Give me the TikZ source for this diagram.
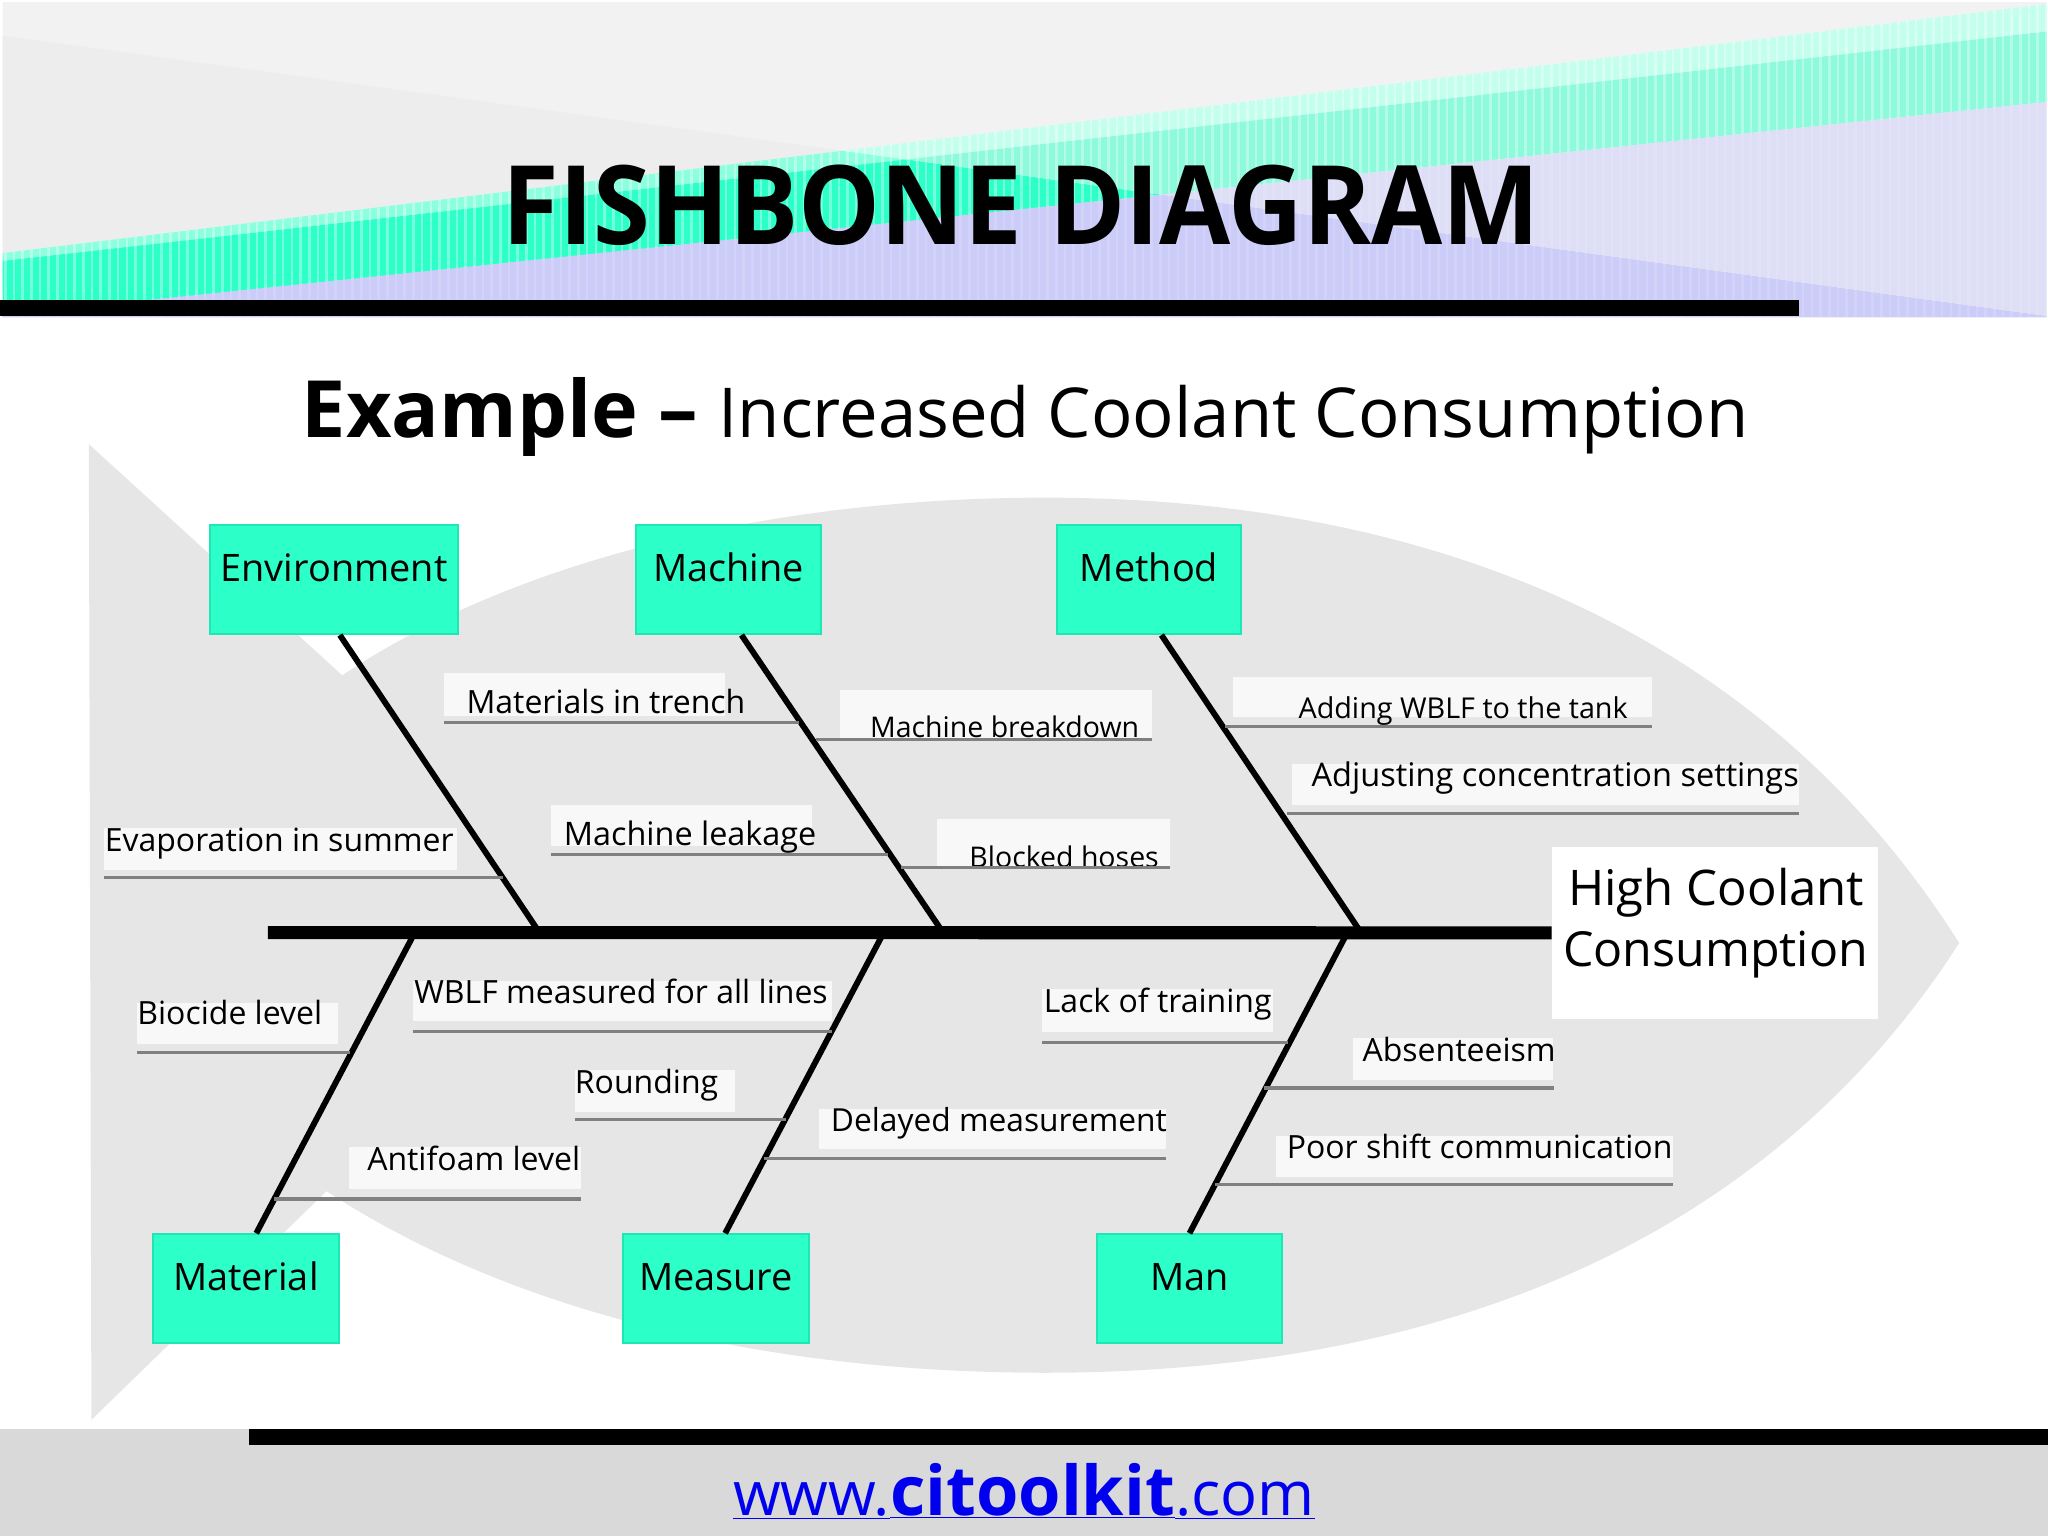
\documentclass[tikz,border=0pt]{standalone}
\usepackage{fontspec}
\setmainfont{Open Sans}
\definecolor{headgrey}{HTML}{F2F2F2}
\definecolor{headdark}{HTML}{EDEDED}
\definecolor{palemint}{HTML}{C4FFEE}
\definecolor{softmint}{HTML}{8CFADB}
\definecolor{lightmint}{HTML}{8CFFDF}
\definecolor{mint}{HTML}{2DFFC8}
\definecolor{mintedge}{HTML}{1EE6B4}
\definecolor{palelilac}{HTML}{DEDEF6}
\definecolor{lilac}{HTML}{CCCCF8}
\definecolor{fishgrey}{HTML}{E6E6E6}
\definecolor{tagwhite}{HTML}{F8F8F8}
\definecolor{twiggrey}{HTML}{808080}
\definecolor{footgrey}{HTML}{D9D9D9}
\definecolor{linkblue}{HTML}{0000EE}
\newcommand{\fsize}[1]{\fontsize{#1}{#1}\selectfont}
\tikzset{
    causebox/.style={draw=mintedge, line width=1.5pt, fill=mint, inner sep=0pt, minimum width=#1,
        text height=43pt, text depth=40.5pt, font=\fsize{29}},
    spine/.style={line width=10pt},
    bone/.style={line width=4.5pt},
    twig/.style={draw=twiggrey, line width=2.5pt},
    tagbox/.style={fill=tagwhite},
    tag/.style={anchor=base west, inner sep=0pt, font=\fsize{24.5}},
    bar/.style={fill=black},
    stripe/.style={draw=white, line width=2pt}
}
\begin{document}
\begin{tikzpicture}[x=1pt,y=-1pt]
        \useasboundingbox (0,0) rectangle (1568,1176);

        % header
        \begin{scope}
            \clip (2,2) rectangle (1567,243);
            \fill[headgrey] (0,0) rectangle (1568,243);
            \fill[headdark] (0,27) -- (645,115.4) -- (0,194) -- cycle;
            \fill[lightmint] (0,194) -- (645,115.4) -- (694,122) -- (0,200) -- cycle;
            \fill[mint] (0,200) -- (694,122) -- (889,149) -- (0,243) -- cycle;
            \fill[lilac] (0,241.5) -- (889,149) -- (1568,242) -- (1568,243) -- (0,243) -- cycle;
            \fill[palemint] (645,115.4) -- (1568,3) -- (1568,24) -- (694,122) -- cycle;
            \fill[softmint] (694,122) -- (1568,24) -- (1568,78) -- (889,149) -- cycle;
            \fill[palelilac] (889,149) -- (1568,78) -- (1568,242) -- cycle;
        \end{scope}
        \begin{scope}
            \clip (2,194) -- (1567,3) -- (1567,78) -- (2,241.5) -- cycle;
            \foreach \x in {4,10.65,...,1568} {
                \draw[stripe, opacity=0.35] (\x,0) -- (\x,243);
            }
        \end{scope}
        \begin{scope}
            \clip (2,241.5) -- (1567,78) -- (1567,243) -- (2,243) -- cycle;
            \foreach \x in {4,10.65,...,1568} {
                \draw[stripe, opacity=0.15] (\x,0) -- (\x,243);
            }
        \end{scope}
        \fill[bar] (0,230) rectangle (1377,242);
        \node[anchor=base, inner sep=0pt, font=\fsize{84}\bfseries] (title) at (782,187) {\scalebox{0.94}[1]{FISHBONE DIAGRAM}};
        \node[anchor=base west, inner sep=0pt, font=\fsize{60.5}\bfseries] (example) at (231,335) {Example --};
        \node[anchor=base west, inner sep=0pt, font=\fsize{52.7}] (subject) at (550,335) {Increased Coolant Consumption};

        % fish
        \fill[fishgrey] (68,340) -- (262,517) .. controls (400,425) and (600,381) .. (800,381)
            .. controls (1120,381) and (1360,500) .. (1500,722)
            .. controls (1360,940) and (1120,1051) .. (800,1051)
            .. controls (600,1051) and (400,1010) .. (250,912) -- (70,1087) -- cycle;

        % footer
        \fill[footgrey] (0,1094) rectangle (1568,1176);
        \fill[bar] (191,1094) rectangle (1568,1106);
        \node[anchor=base, inner sep=0pt, text=linkblue, font=\fsize{47}] (link) at (784,1160)
            {\underline{www.}\underline{\fsize{52.5}\textbf{citoolkit}}\underline{.com}};

        % head and cause boxes
        \node[anchor=north west, fill=white, inner sep=0pt, minimum width=250pt, minimum height=132pt] (effect) at (1188,648) {};
        \node[anchor=north west, causebox=189.5pt] (env) at (160.2,401.2) {Environment};
        \node[anchor=north west, causebox=141.5pt] (machine) at (486.2,401.2) {Machine};
        \node[anchor=north west, causebox=141.5pt] (method) at (808.2,401.2) {Method};
        \node[anchor=north west, causebox=142.5pt] (material) at (116.2,944.2) {Material};
        \node[anchor=north west, causebox=142.5pt] (measure) at (476.2,944.2) {Measure};
        \node[anchor=north west, causebox=141.5pt] (man) at (839.2,944.2) {Man};
        \node[inner sep=0pt, font=\fsize{37.6}, anchor=base] (effecttop) at (1314,693) {High Coolant};
        \node[inner sep=0pt, font=\fsize{37}, anchor=base] (effectbottom) at (1313.5,740) {Consumption};

        % backbone
        \coordinate (tail) at (205,714);
        \coordinate (envjoint) at (411,711);
        \coordinate (machinejoint) at (720,711);
        \coordinate (methodjoint) at (1040,711);
        \coordinate (materialjoint) at (316,717);
        \coordinate (measurejoint) at (675,717);
        \coordinate (manjoint) at (1030,717);
        \draw[bone] ([xshift=4.5pt]env.south) -- (envjoint);
        \draw[bone] ([xshift=10pt]machine.south) -- (machinejoint);
        \draw[bone] ([xshift=9.5pt]method.south) -- (methodjoint);
        \draw[bone] ([xshift=8pt]material.north) -- (materialjoint);
        \draw[bone] ([xshift=7pt]measure.north) -- (measurejoint);
        \draw[bone] (man.north) -- (manjoint);
        \draw[spine] (tail) -- (effect);

        % labels
        \path[tagbox] (340,515) rectangle (555,548);
        \node[tag] (trench) at (357,546) {Materials in trench};
        \coordinate (trenchl) at (340,553);
        \coordinate (trenchr) at (612,553);
        \draw[twig] (trenchl) -- (trenchr);

        \path[tagbox] (643,528) rectangle (882,565);
        \node[tag, font=\fsize{21.8}] (breakdown) at (666,565) {Machine breakdown};
        \coordinate (breakdownl) at (625,566);
        \coordinate (breakdownr) at (882,566);
        \draw[twig] (breakdownl) -- (breakdownr);

        \path[tagbox] (422,616) rectangle (622,648);
        \node[tag, font=\fsize{24.8}] (leakage) at (431.5,647) {Machine leakage};
        \coordinate (leakagel) at (422,654);
        \coordinate (leakager) at (680,654);
        \draw[twig] (leakagel) -- (leakager);

        \path[tagbox] (717,627) rectangle (896,664);
        \node[tag, font=\fsize{21.8}] (hoses) at (742,664) {Blocked hoses};
        \coordinate (hosesl) at (690,664);
        \coordinate (hosesr) at (896,664);
        \draw[twig] (hosesl) -- (hosesr);

        \path[tagbox] (80,634) rectangle (350,666);
        \node[tag] (summer) at (80,652) {Evaporation in summer};
        \coordinate (summerl) at (80,672);
        \coordinate (summerr) at (385,672);
        \draw[twig] (summerl) -- (summerr);

        \path[tagbox] (944,518) rectangle (1265,549);
        \node[tag, font=\fsize{22}] (adding) at (994,550) {Adding WBLF to the tank};
        \coordinate (addingl) at (938,556);
        \coordinate (addingr) at (1265,556);
        \draw[twig] (addingl) -- (addingr);

        \path[tagbox] (989,585) rectangle (1377,616);
        \node[tag, font=\fsize{24.9}] (adjusting) at (1004,602) {Adjusting concentration settings};
        \coordinate (adjustingl) at (985,623);
        \coordinate (adjustingr) at (1377,623);
        \draw[twig] (adjustingl) -- (adjustingr);

        \path[tagbox] (105,768) rectangle (259,799);
        \node[tag] (biocide) at (105,784) {Biocide level};
        \coordinate (biocidel) at (105,806);
        \coordinate (biocider) at (268,806);
        \draw[twig] (biocidel) -- (biocider);

        \path[tagbox] (316,751) rectangle (637,782);
        \node[tag] (wblf) at (317,768) {WBLF measured for all lines};
        \coordinate (wblfl) at (316,790);
        \coordinate (wblfr) at (637,790);
        \draw[twig] (wblfl) -- (wblfr);

        \path[tagbox] (440,819) rectangle (563,851);
        \node[tag] (rounding) at (440,837) {Rounding};
        \coordinate (roundingl) at (440,857);
        \coordinate (roundingr) at (602,857);
        \draw[twig] (roundingl) -- (roundingr);

        \path[tagbox] (267,878) rectangle (445,910);
        \node[tag] (antifoam) at (281,896) {Antifoam level};
        \coordinate (antifoaml) at (210,918);
        \coordinate (antifoamr) at (445,918);
        \draw[twig] (antifoaml) -- (antifoamr);

        \path[tagbox] (627,849) rectangle (893,880);
        \node[tag, font=\fsize{24.3}] (delayed) at (636,866) {Delayed measurement};
        \coordinate (delayedl) at (585,887);
        \coordinate (delayedr) at (893,887);
        \draw[twig] (delayedl) -- (delayedr);

        \path[tagbox] (798,757) rectangle (975,790);
        \node[tag] (training) at (799,775) {Lack of training};
        \coordinate (trainingl) at (798,798);
        \coordinate (trainingr) at (986,798);
        \draw[twig] (trainingl) -- (trainingr);

        \path[tagbox] (1036,795) rectangle (1189,827);
        \node[tag] (absent) at (1043,813) {Absenteeism};
        \coordinate (absentl) at (968,833);
        \coordinate (absentr) at (1190,833);
        \draw[twig] (absentl) -- (absentr);

        \path[tagbox] (977,870) rectangle (1281,901);
        \node[tag] (shift) at (985,887) {Poor shift communication};
        \coordinate (shiftl) at (930,907);
        \coordinate (shiftr) at (1281,907);
        \draw[twig] (shiftl) -- (shiftr);
    \end{tikzpicture}
\end{document}
